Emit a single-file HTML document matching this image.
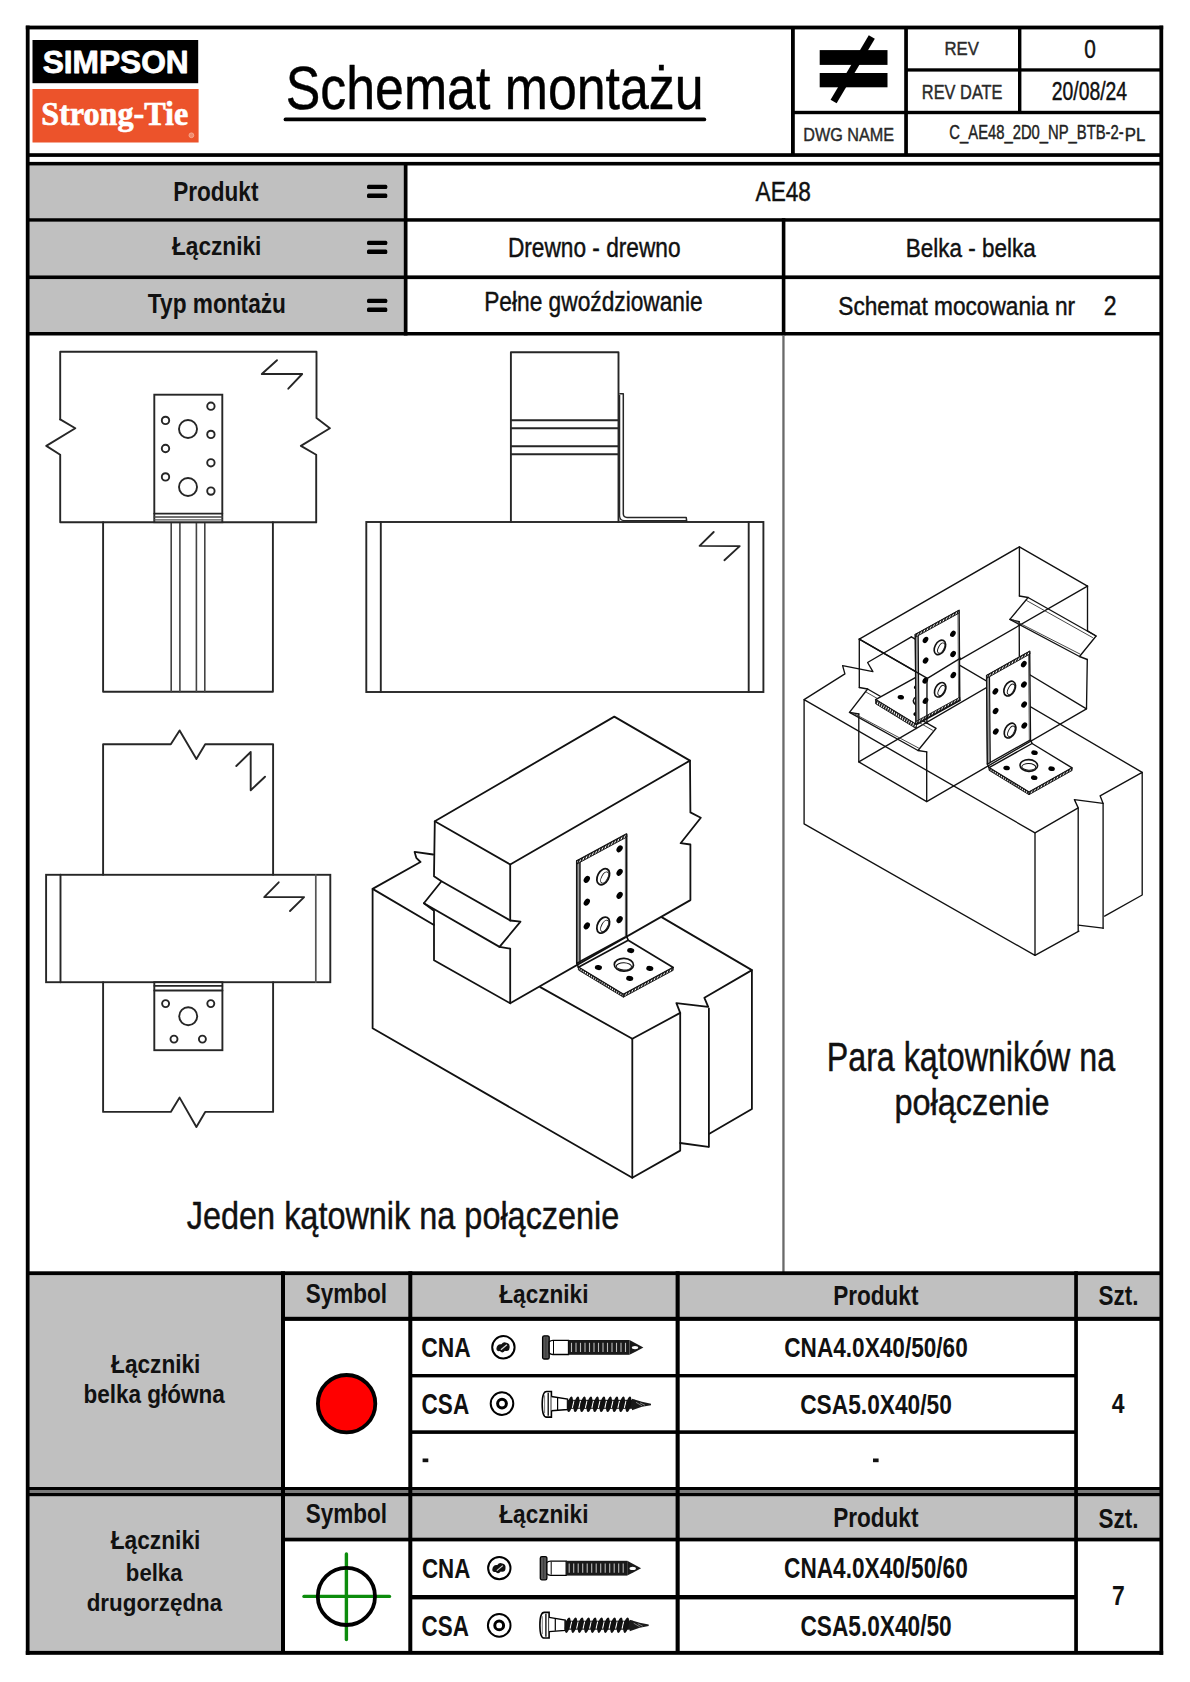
<!DOCTYPE html>
<html><head><meta charset="utf-8"><style>
html,body{margin:0;padding:0;background:#fff;overflow:hidden;width:1190px;height:1682px;}
svg{display:block;}
</style></head><body>
<svg width="1190" height="1682" viewBox="0 0 1190 1682">
<rect width="1190" height="1682" fill="#fff"/>
<rect x="29.50" y="165.50" width="374.50" height="52.70" fill="#c0c0c0"/>
<rect x="29.50" y="221.70" width="374.50" height="53.70" fill="#c0c0c0"/>
<rect x="29.50" y="279.20" width="374.50" height="52.80" fill="#c0c0c0"/>
<rect x="29.50" y="1275.00" width="251.50" height="212.00" fill="#c0c0c0"/>
<rect x="285.00" y="1275.00" width="874.50" height="42.00" fill="#c0c0c0"/>
<rect x="29.50" y="1496.00" width="251.50" height="155.00" fill="#c0c0c0"/>
<rect x="285.00" y="1496.00" width="874.50" height="41.50" fill="#c0c0c0"/>
<rect x="26.00" y="1490.00" width="1137.00" height="3.00" fill="#7a7a7a"/>
<rect x="25.80" y="25.60" width="1137.40" height="3.80" fill="#000"/>
<rect x="25.80" y="1650.90" width="1137.40" height="3.90" fill="#000"/>
<rect x="25.80" y="25.60" width="3.80" height="1629.20" fill="#000"/>
<rect x="1159.40" y="25.60" width="3.80" height="1629.20" fill="#000"/>
<rect x="791.00" y="26.00" width="3.80" height="129.00" fill="#000"/>
<rect x="904.20" y="26.00" width="3.70" height="129.00" fill="#000"/>
<rect x="1018.00" y="26.00" width="3.40" height="86.00" fill="#000"/>
<rect x="791.00" y="110.80" width="370.00" height="3.40" fill="#000"/>
<rect x="905.00" y="68.30" width="256.00" height="3.30" fill="#000"/>
<rect x="26.00" y="153.20" width="1137.00" height="3.70" fill="#000"/>
<rect x="26.00" y="161.90" width="1137.00" height="3.60" fill="#000"/>
<rect x="26.00" y="218.20" width="1137.00" height="3.50" fill="#000"/>
<rect x="26.00" y="275.40" width="1137.00" height="3.70" fill="#000"/>
<rect x="26.00" y="332.00" width="1137.00" height="3.50" fill="#000"/>
<rect x="403.80" y="162.00" width="3.70" height="173.50" fill="#000"/>
<rect x="781.80" y="218.20" width="3.60" height="117.30" fill="#000"/>
<rect x="782.30" y="335.00" width="2.30" height="937.00" fill="#6a6a6a"/>
<rect x="26.00" y="1271.30" width="1137.00" height="3.80" fill="#000"/>
<rect x="281.00" y="1271.30" width="4.00" height="224.70" fill="#000"/>
<rect x="408.30" y="1271.30" width="4.00" height="380.70" fill="#000"/>
<rect x="675.60" y="1271.30" width="4.10" height="380.70" fill="#000"/>
<rect x="1074.20" y="1271.30" width="3.70" height="380.70" fill="#000"/>
<rect x="281.00" y="1316.80" width="882.00" height="4.10" fill="#000"/>
<rect x="412.00" y="1374.00" width="665.00" height="3.40" fill="#000"/>
<rect x="412.00" y="1430.30" width="665.00" height="3.60" fill="#000"/>
<rect x="26.00" y="1487.00" width="1137.00" height="3.00" fill="#000"/>
<rect x="26.00" y="1493.00" width="1137.00" height="3.20" fill="#000"/>
<rect x="281.00" y="1496.00" width="4.00" height="156.00" fill="#000"/>
<rect x="281.00" y="1537.60" width="882.00" height="3.80" fill="#000"/>
<rect x="412.00" y="1595.00" width="665.00" height="4.40" fill="#000"/>
<rect x="32.50" y="40.00" width="165.70" height="43.20" fill="#000"/>
<rect x="32.50" y="89.00" width="166.10" height="53.50" fill="#ec532b"/>
<text transform="translate(42.65,73.00) scale(1.0365,1)" font-family="Liberation Sans" font-size="30.58" font-weight="bold" fill="#fff" stroke="#fff" stroke-width="0.8" stroke-linejoin="round">SIMPSON</text>
<text transform="translate(41.33,124.60) scale(0.9833,1)" font-family="Liberation Serif" font-size="32.67" font-weight="bold" fill="#fff" stroke="#fff" stroke-width="0.7" stroke-linejoin="round">Strong-Tie</text>
<circle cx="191.4" cy="135.3" r="2.4" fill="#f08a6c" stroke="#f6b39c" stroke-width="0.8"/>
<text transform="translate(285.77,108.90) scale(0.8391,1)" font-family="Liberation Sans" font-size="61.79" font-weight="normal" fill="#000" stroke="#000" stroke-width="0.45" stroke-linejoin="round">Schemat montażu</text>
<line x1="285.5" y1="119.4" x2="704.3" y2="119.4" stroke="#000" stroke-width="3.8" stroke-linecap="round"/>
<rect x="819.70" y="50.10" width="67.80" height="14.80" fill="#000"/>
<rect x="819.70" y="73.00" width="67.80" height="14.30" fill="#000"/>
<line x1="871.8" y1="37" x2="833.6" y2="101.5" stroke="#000" stroke-width="7"/>
<text transform="translate(944.46,55.10) scale(0.8691,1)" font-family="Liberation Sans" font-size="19.28" font-weight="normal" fill="#2a2a2a" stroke="#2a2a2a" stroke-width="0.45" stroke-linejoin="round">REV</text>
<text transform="translate(1084.17,57.60) scale(0.8381,1)" font-family="Liberation Sans" font-size="24.86" font-weight="normal" fill="#111" stroke="#111" stroke-width="0.45" stroke-linejoin="round">0</text>
<text transform="translate(921.79,99.40) scale(0.8141,1)" font-family="Liberation Sans" font-size="20.14" font-weight="normal" fill="#2a2a2a" stroke="#2a2a2a" stroke-width="0.45" stroke-linejoin="round">REV DATE</text>
<text transform="translate(1051.73,99.60) scale(0.7793,1)" font-family="Liberation Sans" font-size="24.86" font-weight="normal" fill="#111" stroke="#111" stroke-width="0.45" stroke-linejoin="round">20/08/24</text>
<text transform="translate(803.20,140.80) scale(0.8410,1)" font-family="Liberation Sans" font-size="19.28" font-weight="normal" fill="#2a2a2a" stroke="#2a2a2a" stroke-width="0.45" stroke-linejoin="round">DWG NAME</text>
<text transform="translate(949.36,139.30) scale(0.7404,1)" font-family="Liberation Sans" font-size="20.00" font-weight="normal" fill="#222" stroke="#222" stroke-width="0.45" stroke-linejoin="round">C_AE48_2D0_NP_BTB-2-</text>
<text transform="translate(1124.85,140.80) scale(0.8806,1)" font-family="Liberation Sans" font-size="19.13" font-weight="normal" fill="#222" stroke="#222" stroke-width="0.45" stroke-linejoin="round">PL</text>
<text transform="translate(173.23,201.00) scale(0.8196,1)" font-family="Liberation Sans" font-size="27.54" font-weight="bold" fill="#111">Produkt</text>
<text transform="translate(172.00,254.90) scale(0.8736,1)" font-family="Liberation Sans" font-size="25.93" font-weight="bold" fill="#111">Łączniki</text>
<text transform="translate(147.87,312.80) scale(0.8323,1)" font-family="Liberation Sans" font-size="27.25" font-weight="bold" fill="#111">Typ montażu</text>
<rect x="367" y="184.7" width="20.3" height="4.3" rx="1.5" fill="#000"/>
<rect x="367" y="193.4" width="20.3" height="4.6" rx="1.5" fill="#000"/>
<rect x="367" y="240.8" width="20.3" height="4.3" rx="1.5" fill="#000"/>
<rect x="367" y="249.5" width="20.3" height="4.6" rx="1.5" fill="#000"/>
<rect x="367" y="298.7" width="20.3" height="4.3" rx="1.5" fill="#000"/>
<rect x="367" y="307.4" width="20.3" height="4.6" rx="1.5" fill="#000"/>
<text transform="translate(755.60,200.80) scale(0.8346,1)" font-family="Liberation Sans" font-size="27.10" font-weight="normal" fill="#111" stroke="#111" stroke-width="0.45" stroke-linejoin="round">AE48</text>
<text transform="translate(507.89,256.90) scale(0.8325,1)" font-family="Liberation Sans" font-size="27.25" font-weight="normal" fill="#111" stroke="#111" stroke-width="0.45" stroke-linejoin="round">Drewno - drewno</text>
<text transform="translate(905.80,256.80) scale(0.8474,1)" font-family="Liberation Sans" font-size="26.52" font-weight="normal" fill="#111" stroke="#111" stroke-width="0.45" stroke-linejoin="round">Belka - belka</text>
<text transform="translate(484.18,311.00) scale(0.8130,1)" font-family="Liberation Sans" font-size="27.97" font-weight="normal" fill="#111" stroke="#111" stroke-width="0.45" stroke-linejoin="round">Pełne gwoździowanie</text>
<text transform="translate(838.28,314.70) scale(0.8891,1)" font-family="Liberation Sans" font-size="25.52" font-weight="normal" fill="#111" stroke="#111" stroke-width="0.45" stroke-linejoin="round">Schemat mocowania nr</text>
<text transform="translate(1103.65,315.30) scale(0.8327,1)" font-family="Liberation Sans" font-size="27.71" font-weight="normal" fill="#111" stroke="#111" stroke-width="0.45" stroke-linejoin="round">2</text>
<text transform="translate(305.72,1303.00) scale(0.8377,1)" font-family="Liberation Sans" font-size="26.90" font-weight="bold" fill="#111">Symbol</text>
<text transform="translate(499.30,1302.80) scale(0.8717,1)" font-family="Liberation Sans" font-size="25.93" font-weight="bold" fill="#111">Łączniki</text>
<text transform="translate(305.72,1523.00) scale(0.8377,1)" font-family="Liberation Sans" font-size="26.90" font-weight="bold" fill="#111">Symbol</text>
<text transform="translate(499.30,1522.80) scale(0.8717,1)" font-family="Liberation Sans" font-size="25.93" font-weight="bold" fill="#111">Łączniki</text>
<text transform="translate(833.23,1305.10) scale(0.8196,1)" font-family="Liberation Sans" font-size="27.54" font-weight="bold" fill="#111">Produkt</text>
<text transform="translate(1098.62,1305.30) scale(0.7995,1)" font-family="Liberation Sans" font-size="28.14" font-weight="bold" fill="#111">Szt.</text>
<text transform="translate(833.23,1527.30) scale(0.8196,1)" font-family="Liberation Sans" font-size="27.54" font-weight="bold" fill="#111">Produkt</text>
<text transform="translate(1098.62,1527.50) scale(0.7995,1)" font-family="Liberation Sans" font-size="28.14" font-weight="bold" fill="#111">Szt.</text>
<text transform="translate(111.10,1373.00) scale(0.9064,1)" font-family="Liberation Sans" font-size="24.97" font-weight="bold" fill="#111">Łączniki</text>
<text transform="translate(83.44,1402.60) scale(0.9021,1)" font-family="Liberation Sans" font-size="24.97" font-weight="bold" fill="#111">belka główna</text>
<text transform="translate(110.70,1548.70) scale(0.9105,1)" font-family="Liberation Sans" font-size="24.97" font-weight="bold" fill="#111">Łączniki</text>
<text transform="translate(125.86,1580.90) scale(0.8926,1)" font-family="Liberation Sans" font-size="24.83" font-weight="bold" fill="#111">belka</text>
<text transform="translate(86.71,1611.10) scale(0.9012,1)" font-family="Liberation Sans" font-size="24.83" font-weight="bold" fill="#111">drugorzędna</text>
<text transform="translate(421.29,1357.10) scale(0.8257,1)" font-family="Liberation Sans" font-size="27.68" font-weight="bold" fill="#111">CNA</text>
<text transform="translate(421.60,1414.00) scale(0.7851,1)" font-family="Liberation Sans" font-size="28.71" font-weight="bold" fill="#111">CSA</text>
<text transform="translate(421.91,1577.70) scale(0.7936,1)" font-family="Liberation Sans" font-size="28.14" font-weight="bold" fill="#111">CNA</text>
<text transform="translate(421.60,1635.90) scale(0.7702,1)" font-family="Liberation Sans" font-size="29.14" font-weight="bold" fill="#111">CSA</text>
<text transform="translate(784.30,1357.40) scale(0.8202,1)" font-family="Liberation Sans" font-size="27.57" font-weight="bold" fill="#111">CNA4.0X40/50/60</text>
<text transform="translate(800.19,1413.70) scale(0.8036,1)" font-family="Liberation Sans" font-size="28.29" font-weight="bold" fill="#111">CSA5.0X40/50</text>
<text transform="translate(784.09,1578.10) scale(0.7806,1)" font-family="Liberation Sans" font-size="29.00" font-weight="bold" fill="#111">CNA4.0X40/50/60</text>
<text transform="translate(800.49,1636.30) scale(0.7823,1)" font-family="Liberation Sans" font-size="29.00" font-weight="bold" fill="#111">CSA5.0X40/50</text>
<text transform="translate(1111.76,1413.30) scale(0.8053,1)" font-family="Liberation Sans" font-size="28.55" font-weight="bold" fill="#111">4</text>
<text transform="translate(1111.98,1605.20) scale(0.8334,1)" font-family="Liberation Sans" font-size="27.54" font-weight="bold" fill="#111">7</text>
<rect x="422.60" y="1458.50" width="5.70" height="3.70" fill="#111"/>
<rect x="873.00" y="1458.50" width="5.60" height="3.70" fill="#111"/>
<circle cx="346.6" cy="1403.7" r="28.7" fill="#ff0000" stroke="#000" stroke-width="3.8"/>
<line x1="304" y1="1596.4" x2="389.5" y2="1596.4" stroke="#0c8c0c" stroke-width="3.4" stroke-linecap="round"/>
<line x1="346.4" y1="1554" x2="346.4" y2="1639.5" stroke="#0c8c0c" stroke-width="3.4" stroke-linecap="round"/>
<circle cx="346.4" cy="1596.4" r="28.6" fill="none" stroke="#000" stroke-width="3.8"/>
<circle cx="503.4" cy="1347.3" r="11.2" fill="#fff" stroke="#000" stroke-width="2.0"/><path transform="translate(503.4,1347.3)" d="M-7,1.5 Q-6.5,-3.5 -2,-3 Q0,-6 3,-4.5 Q6.8,-3.8 6.2,0.5 Q6,4.5 1.5,3.5 Q-1,6.5 -3.5,3.8 Q-7.2,4.5 -7,1.5 Z" fill="#111"/><path transform="translate(503.4,1347.3)" d="M-2.5,2.5 L3.5,-2.5" stroke="#ddd" stroke-width="1.2"/>
<circle cx="502.0" cy="1403.6" r="11.3" fill="#fff" stroke="#000" stroke-width="2.0"/><circle cx="502.0" cy="1403.6" r="4.4" fill="#fff" stroke="#000" stroke-width="3.0"/>
<circle cx="499.3" cy="1568.1" r="11.2" fill="#fff" stroke="#000" stroke-width="2.0"/><path transform="translate(499.3,1568.1)" d="M-7,1.5 Q-6.5,-3.5 -2,-3 Q0,-6 3,-4.5 Q6.8,-3.8 6.2,0.5 Q6,4.5 1.5,3.5 Q-1,6.5 -3.5,3.8 Q-7.2,4.5 -7,1.5 Z" fill="#111"/><path transform="translate(499.3,1568.1)" d="M-2.5,2.5 L3.5,-2.5" stroke="#ddd" stroke-width="1.2"/>
<circle cx="499.2" cy="1625.4" r="11.3" fill="#fff" stroke="#000" stroke-width="2.0"/><circle cx="499.2" cy="1625.4" r="4.4" fill="#fff" stroke="#000" stroke-width="3.0"/>
<g transform="translate(542.0,1347.4)"><rect x="0.6" y="-11.6" width="6.6" height="23.2" rx="1.6" fill="#555" stroke="#000" stroke-width="1.3"/><line x1="3.9" y1="-10" x2="3.9" y2="10" stroke="#333" stroke-width="0.8"/><path d="M7.2,-5.5 Q8.5,-7.1 11,-7.1 L26.5,-7.1 L26.5,7.1 L11,7.1 Q8.5,7.1 7.2,5.5 Z" fill="#fff" stroke="#000" stroke-width="1.3"/><line x1="11.5" y1="-6.5" x2="11.5" y2="6.5" stroke="#000" stroke-width="1.0"/><rect x="26.5" y="-7.4" width="61" height="14.8" fill="#1a1a1a"/><line x1="29.5" y1="-4.6" x2="29.5" y2="4.6" stroke="#bbb" stroke-width="1.1"/><line x1="34.0" y1="-4.6" x2="34.0" y2="4.6" stroke="#bbb" stroke-width="1.1"/><line x1="38.5" y1="-4.6" x2="38.5" y2="4.6" stroke="#bbb" stroke-width="1.1"/><line x1="43.0" y1="-4.6" x2="43.0" y2="4.6" stroke="#bbb" stroke-width="1.1"/><line x1="47.5" y1="-4.6" x2="47.5" y2="4.6" stroke="#bbb" stroke-width="1.1"/><line x1="52.0" y1="-4.6" x2="52.0" y2="4.6" stroke="#bbb" stroke-width="1.1"/><line x1="56.5" y1="-4.6" x2="56.5" y2="4.6" stroke="#bbb" stroke-width="1.1"/><line x1="61.0" y1="-4.6" x2="61.0" y2="4.6" stroke="#bbb" stroke-width="1.1"/><line x1="65.5" y1="-4.6" x2="65.5" y2="4.6" stroke="#bbb" stroke-width="1.1"/><line x1="70.0" y1="-4.6" x2="70.0" y2="4.6" stroke="#bbb" stroke-width="1.1"/><line x1="74.5" y1="-4.6" x2="74.5" y2="4.6" stroke="#bbb" stroke-width="1.1"/><line x1="79.0" y1="-4.6" x2="79.0" y2="4.6" stroke="#bbb" stroke-width="1.1"/><line x1="83.5" y1="-4.6" x2="83.5" y2="4.6" stroke="#bbb" stroke-width="1.1"/><path d="M87.5,-7.4 L94,-4 L101.4,0 L94,4 L87.5,7.4 Z" fill="#1a1a1a"/><ellipse cx="93" cy="0.2" rx="3.2" ry="1.6" fill="#fff"/></g>
<g transform="translate(542.0,1404.3)"><path d="M9.4,-12.8 L4.5,-12.8 Q0.2,-12.8 0.2,0 Q0.2,12.8 4.5,12.8 L9.4,12.8 Z" fill="#fff" stroke="#000" stroke-width="1.6"/><line x1="6.2" y1="-11.5" x2="6.2" y2="11.5" stroke="#000" stroke-width="1.3"/><line x1="2.6" y1="-9" x2="2.6" y2="9" stroke="#555" stroke-width="0.8"/><path d="M9.4,-7.8 L25.5,-5.2 L25.5,5.2 L9.4,6.4" fill="#fff" stroke="#000" stroke-width="1.4"/><line x1="15.6" y1="-6.8" x2="15.6" y2="5.6" stroke="#000" stroke-width="1.2"/><rect x="25" y="-4.5" width="68" height="9" fill="#1a1a1a"/><ellipse cx="28.0" cy="0" rx="2.5" ry="7.9" transform="rotate(12 28.0 0)" fill="#111"/><line x1="30.4" y1="3.5" x2="32.0" y2="-3.5" stroke="#fff" stroke-width="1.1"/><ellipse cx="34.5" cy="0" rx="2.5" ry="7.9" transform="rotate(12 34.5 0)" fill="#111"/><line x1="36.9" y1="3.5" x2="38.5" y2="-3.5" stroke="#fff" stroke-width="1.1"/><ellipse cx="41.0" cy="0" rx="2.5" ry="7.9" transform="rotate(12 41.0 0)" fill="#111"/><line x1="43.4" y1="3.5" x2="45.0" y2="-3.5" stroke="#fff" stroke-width="1.1"/><ellipse cx="47.5" cy="0" rx="2.5" ry="7.9" transform="rotate(12 47.5 0)" fill="#111"/><line x1="49.9" y1="3.5" x2="51.5" y2="-3.5" stroke="#fff" stroke-width="1.1"/><ellipse cx="54.0" cy="0" rx="2.5" ry="7.9" transform="rotate(12 54.0 0)" fill="#111"/><line x1="56.4" y1="3.5" x2="58.0" y2="-3.5" stroke="#fff" stroke-width="1.1"/><ellipse cx="60.5" cy="0" rx="2.5" ry="7.9" transform="rotate(12 60.5 0)" fill="#111"/><line x1="62.9" y1="3.5" x2="64.5" y2="-3.5" stroke="#fff" stroke-width="1.1"/><ellipse cx="67.0" cy="0" rx="2.5" ry="7.9" transform="rotate(12 67.0 0)" fill="#111"/><line x1="69.4" y1="3.5" x2="71.0" y2="-3.5" stroke="#fff" stroke-width="1.1"/><ellipse cx="73.5" cy="0" rx="2.5" ry="7.9" transform="rotate(12 73.5 0)" fill="#111"/><line x1="75.9" y1="3.5" x2="77.5" y2="-3.5" stroke="#fff" stroke-width="1.1"/><ellipse cx="80.0" cy="0" rx="2.5" ry="7.9" transform="rotate(12 80.0 0)" fill="#111"/><line x1="82.4" y1="3.5" x2="84.0" y2="-3.5" stroke="#fff" stroke-width="1.1"/><ellipse cx="86.5" cy="0" rx="2.5" ry="7.9" transform="rotate(12 86.5 0)" fill="#111"/><path d="M90,-5.5 L100,-2.5 L109,-0.6 L109,0.9 L100,2.5 L90,6 Z" fill="#1a1a1a"/><path d="M94,-2 L100,1.5 M98,-1.5 L103,1" stroke="#999" stroke-width="0.8"/></g>
<g transform="translate(539.7,1568.2)"><rect x="0.6" y="-11.6" width="6.6" height="23.2" rx="1.6" fill="#555" stroke="#000" stroke-width="1.3"/><line x1="3.9" y1="-10" x2="3.9" y2="10" stroke="#333" stroke-width="0.8"/><path d="M7.2,-5.5 Q8.5,-7.1 11,-7.1 L26.5,-7.1 L26.5,7.1 L11,7.1 Q8.5,7.1 7.2,5.5 Z" fill="#fff" stroke="#000" stroke-width="1.3"/><line x1="11.5" y1="-6.5" x2="11.5" y2="6.5" stroke="#000" stroke-width="1.0"/><rect x="26.5" y="-7.4" width="61" height="14.8" fill="#1a1a1a"/><line x1="29.5" y1="-4.6" x2="29.5" y2="4.6" stroke="#bbb" stroke-width="1.1"/><line x1="34.0" y1="-4.6" x2="34.0" y2="4.6" stroke="#bbb" stroke-width="1.1"/><line x1="38.5" y1="-4.6" x2="38.5" y2="4.6" stroke="#bbb" stroke-width="1.1"/><line x1="43.0" y1="-4.6" x2="43.0" y2="4.6" stroke="#bbb" stroke-width="1.1"/><line x1="47.5" y1="-4.6" x2="47.5" y2="4.6" stroke="#bbb" stroke-width="1.1"/><line x1="52.0" y1="-4.6" x2="52.0" y2="4.6" stroke="#bbb" stroke-width="1.1"/><line x1="56.5" y1="-4.6" x2="56.5" y2="4.6" stroke="#bbb" stroke-width="1.1"/><line x1="61.0" y1="-4.6" x2="61.0" y2="4.6" stroke="#bbb" stroke-width="1.1"/><line x1="65.5" y1="-4.6" x2="65.5" y2="4.6" stroke="#bbb" stroke-width="1.1"/><line x1="70.0" y1="-4.6" x2="70.0" y2="4.6" stroke="#bbb" stroke-width="1.1"/><line x1="74.5" y1="-4.6" x2="74.5" y2="4.6" stroke="#bbb" stroke-width="1.1"/><line x1="79.0" y1="-4.6" x2="79.0" y2="4.6" stroke="#bbb" stroke-width="1.1"/><line x1="83.5" y1="-4.6" x2="83.5" y2="4.6" stroke="#bbb" stroke-width="1.1"/><path d="M87.5,-7.4 L94,-4 L101.4,0 L94,4 L87.5,7.4 Z" fill="#1a1a1a"/><ellipse cx="93" cy="0.2" rx="3.2" ry="1.6" fill="#fff"/></g>
<g transform="translate(539.7,1625.2)"><path d="M9.4,-12.8 L4.5,-12.8 Q0.2,-12.8 0.2,0 Q0.2,12.8 4.5,12.8 L9.4,12.8 Z" fill="#fff" stroke="#000" stroke-width="1.6"/><line x1="6.2" y1="-11.5" x2="6.2" y2="11.5" stroke="#000" stroke-width="1.3"/><line x1="2.6" y1="-9" x2="2.6" y2="9" stroke="#555" stroke-width="0.8"/><path d="M9.4,-7.8 L25.5,-5.2 L25.5,5.2 L9.4,6.4" fill="#fff" stroke="#000" stroke-width="1.4"/><line x1="15.6" y1="-6.8" x2="15.6" y2="5.6" stroke="#000" stroke-width="1.2"/><rect x="25" y="-4.5" width="68" height="9" fill="#1a1a1a"/><ellipse cx="28.0" cy="0" rx="2.5" ry="7.9" transform="rotate(12 28.0 0)" fill="#111"/><line x1="30.4" y1="3.5" x2="32.0" y2="-3.5" stroke="#fff" stroke-width="1.1"/><ellipse cx="34.5" cy="0" rx="2.5" ry="7.9" transform="rotate(12 34.5 0)" fill="#111"/><line x1="36.9" y1="3.5" x2="38.5" y2="-3.5" stroke="#fff" stroke-width="1.1"/><ellipse cx="41.0" cy="0" rx="2.5" ry="7.9" transform="rotate(12 41.0 0)" fill="#111"/><line x1="43.4" y1="3.5" x2="45.0" y2="-3.5" stroke="#fff" stroke-width="1.1"/><ellipse cx="47.5" cy="0" rx="2.5" ry="7.9" transform="rotate(12 47.5 0)" fill="#111"/><line x1="49.9" y1="3.5" x2="51.5" y2="-3.5" stroke="#fff" stroke-width="1.1"/><ellipse cx="54.0" cy="0" rx="2.5" ry="7.9" transform="rotate(12 54.0 0)" fill="#111"/><line x1="56.4" y1="3.5" x2="58.0" y2="-3.5" stroke="#fff" stroke-width="1.1"/><ellipse cx="60.5" cy="0" rx="2.5" ry="7.9" transform="rotate(12 60.5 0)" fill="#111"/><line x1="62.9" y1="3.5" x2="64.5" y2="-3.5" stroke="#fff" stroke-width="1.1"/><ellipse cx="67.0" cy="0" rx="2.5" ry="7.9" transform="rotate(12 67.0 0)" fill="#111"/><line x1="69.4" y1="3.5" x2="71.0" y2="-3.5" stroke="#fff" stroke-width="1.1"/><ellipse cx="73.5" cy="0" rx="2.5" ry="7.9" transform="rotate(12 73.5 0)" fill="#111"/><line x1="75.9" y1="3.5" x2="77.5" y2="-3.5" stroke="#fff" stroke-width="1.1"/><ellipse cx="80.0" cy="0" rx="2.5" ry="7.9" transform="rotate(12 80.0 0)" fill="#111"/><line x1="82.4" y1="3.5" x2="84.0" y2="-3.5" stroke="#fff" stroke-width="1.1"/><ellipse cx="86.5" cy="0" rx="2.5" ry="7.9" transform="rotate(12 86.5 0)" fill="#111"/><path d="M90,-5.5 L100,-2.5 L109,-0.6 L109,0.9 L100,2.5 L90,6 Z" fill="#1a1a1a"/><path d="M94,-2 L100,1.5 M98,-1.5 L103,1" stroke="#999" stroke-width="0.8"/></g>
<text transform="translate(186.81,1228.50) scale(0.8381,1)" font-family="Liberation Sans" font-size="38.70" font-weight="normal" fill="#111" stroke="#111" stroke-width="0.45" stroke-linejoin="round">Jeden kątownik na połączenie</text>
<text transform="translate(826.72,1071.00) scale(0.8061,1)" font-family="Liberation Sans" font-size="40.00" font-weight="normal" fill="#111" stroke="#111" stroke-width="0.45" stroke-linejoin="round">Para kątowników na</text>
<text transform="translate(894.39,1114.70) scale(0.8898,1)" font-family="Liberation Sans" font-size="36.48" font-weight="normal" fill="#111" stroke="#111" stroke-width="0.45" stroke-linejoin="round">połączenie</text>
<defs><pattern id="hatch" width="2.4" height="2.4" patternUnits="userSpaceOnUse" patternTransform="rotate(20)"><rect width="2.4" height="2.4" fill="#fff"/><rect width="1.4" height="2.4" fill="#111"/></pattern></defs>
<polyline points="60.2,419.4 60.2,351.8 316.5,351.8 316.5,418.1 329.9,428.2 300.9,445.9 316.2,454.7 316.2,522.2" fill="none" stroke="#262626" stroke-width="1.9" stroke-linejoin="round" stroke-linecap="round"/>
<polyline points="60.2,419.4 75.3,428.2 46.3,445.9 60.2,454.7 60.2,522.2 316.2,522.2" fill="none" stroke="#262626" stroke-width="1.9" stroke-linejoin="round" stroke-linecap="round"/>
<polyline points="277.0,360.2 261.8,374.0 302.2,374.0 288.3,388.7" fill="none" stroke="#262626" stroke-width="1.9" stroke-linejoin="round" stroke-linecap="round"/>
<polyline points="103.1,522.2 103.1,691.8 272.9,691.8 272.9,522.2" fill="none" stroke="#262626" stroke-width="1.9" stroke-linejoin="round" stroke-linecap="round"/>
<line x1="171.2" y1="522.2" x2="171.2" y2="691.8" stroke="#444" stroke-width="1.6" stroke-linecap="round"/>
<line x1="179.9" y1="522.2" x2="179.9" y2="691.8" stroke="#444" stroke-width="1.6" stroke-linecap="round"/>
<line x1="196.4" y1="522.2" x2="196.4" y2="691.8" stroke="#444" stroke-width="1.6" stroke-linecap="round"/>
<line x1="204.8" y1="522.2" x2="204.8" y2="691.8" stroke="#444" stroke-width="1.6" stroke-linecap="round"/>
<rect x="154.3" y="394.7" width="68" height="127.5" fill="#fff" stroke="#262626" stroke-width="1.9"/>
<line x1="154.3" y1="513.6" x2="222.3" y2="513.6" stroke="#262626" stroke-width="1.9" stroke-linecap="round"/>
<line x1="154.3" y1="517.0" x2="222.3" y2="517.0" stroke="#444" stroke-width="1.4" stroke-linecap="round"/>
<line x1="154.3" y1="519.9" x2="222.3" y2="519.9" stroke="#555" stroke-width="1.2" stroke-linecap="round"/>
<circle cx="210.9" cy="406.2" r="3.70" fill="none" stroke="#262626" stroke-width="1.9"/>
<circle cx="165.5" cy="420.4" r="3.70" fill="none" stroke="#262626" stroke-width="1.9"/>
<circle cx="210.9" cy="434.4" r="3.70" fill="none" stroke="#262626" stroke-width="1.9"/>
<circle cx="165.5" cy="448.5" r="3.70" fill="none" stroke="#262626" stroke-width="1.9"/>
<circle cx="210.9" cy="462.8" r="3.70" fill="none" stroke="#262626" stroke-width="1.9"/>
<circle cx="165.5" cy="476.9" r="3.70" fill="none" stroke="#262626" stroke-width="1.9"/>
<circle cx="210.9" cy="491.1" r="3.70" fill="none" stroke="#262626" stroke-width="1.9"/>
<circle cx="188.0" cy="429.0" r="9.00" fill="none" stroke="#262626" stroke-width="1.9"/>
<circle cx="188.0" cy="487.0" r="9.00" fill="none" stroke="#262626" stroke-width="1.9"/>
<rect x="366.3" y="522.0" width="397.1" height="170" fill="none" stroke="#262626" stroke-width="1.9"/>
<line x1="380.8" y1="522.0" x2="380.8" y2="692.0" stroke="#262626" stroke-width="1.9" stroke-linecap="round"/>
<line x1="748.7" y1="522.0" x2="748.7" y2="692.0" stroke="#262626" stroke-width="1.9" stroke-linecap="round"/>
<polyline points="713.7,532.0 699.6,545.9 739.7,546.1 724.4,560.2" fill="none" stroke="#262626" stroke-width="1.9" stroke-linejoin="round" stroke-linecap="round"/>
<polyline points="510.9,522.0 510.9,352.3 618.5,352.3 618.5,522.0" fill="none" stroke="#262626" stroke-width="1.9" stroke-linejoin="round" stroke-linecap="round"/>
<line x1="510.9" y1="420.3" x2="618.5" y2="420.3" stroke="#262626" stroke-width="1.9" stroke-linecap="round"/>
<line x1="510.9" y1="428.2" x2="618.5" y2="428.2" stroke="#262626" stroke-width="1.9" stroke-linecap="round"/>
<line x1="510.9" y1="446.2" x2="618.5" y2="446.2" stroke="#262626" stroke-width="1.9" stroke-linecap="round"/>
<line x1="510.9" y1="454.3" x2="618.5" y2="454.3" stroke="#262626" stroke-width="1.9" stroke-linecap="round"/>
<path d="M619.3,393.8 L623.3,393.8 L623.3,514 Q623.5,517.4 627,517.4 L686.2,517.4 L686.8,521.8" fill="none" stroke="#262626" stroke-width="1.5" stroke-linejoin="round"/>
<path d="M619.6,395 L619.6,516 Q620,520.6 624,520.6 L686,520.6" fill="none" stroke="#262626" stroke-width="1.3"/>
<polyline points="103.1,874.8 103.1,744.3 170.8,744.3 179.6,730.4 196.4,759.1 205.2,744.3 273.1,744.3 273.1,874.8" fill="none" stroke="#262626" stroke-width="1.9" stroke-linejoin="round" stroke-linecap="round"/>
<polyline points="236.3,766.0 250.7,752.0 250.7,790.3 265.0,776.7" fill="none" stroke="#262626" stroke-width="1.9" stroke-linejoin="round" stroke-linecap="round"/>
<polyline points="103.1,982.2 103.1,1111.9 170.8,1111.9 179.6,1097.6 196.4,1127.0 205.2,1111.9 273.1,1111.9 273.1,982.2" fill="none" stroke="#262626" stroke-width="1.9" stroke-linejoin="round" stroke-linecap="round"/>
<rect x="46.1" y="874.8" width="284.2" height="107.4" fill="none" stroke="#262626" stroke-width="1.9"/>
<line x1="60.5" y1="874.8" x2="60.5" y2="982.2" stroke="#262626" stroke-width="1.9" stroke-linecap="round"/>
<line x1="315.8" y1="874.8" x2="315.8" y2="982.2" stroke="#555" stroke-width="1.7" stroke-linecap="round"/>
<polyline points="278.7,882.3 264.2,897.1 304.1,897.1 290.0,911.0" fill="none" stroke="#262626" stroke-width="1.9" stroke-linejoin="round" stroke-linecap="round"/>
<rect x="154.3" y="982.2" width="68.1" height="68" fill="#fff" stroke="#262626" stroke-width="1.9"/>
<line x1="154.3" y1="985.9" x2="222.4" y2="985.9" stroke="#262626" stroke-width="1.6" stroke-linecap="round"/>
<line x1="154.3" y1="990.5" x2="222.4" y2="990.5" stroke="#262626" stroke-width="1.9" stroke-linecap="round"/>
<circle cx="165.6" cy="1003.6" r="3.50" fill="none" stroke="#262626" stroke-width="1.9"/>
<circle cx="210.8" cy="1003.6" r="3.50" fill="none" stroke="#262626" stroke-width="1.9"/>
<circle cx="174.0" cy="1039.1" r="3.50" fill="none" stroke="#262626" stroke-width="1.9"/>
<circle cx="202.4" cy="1039.1" r="3.50" fill="none" stroke="#262626" stroke-width="1.9"/>
<circle cx="188.2" cy="1016.2" r="9.00" fill="none" stroke="#262626" stroke-width="1.9"/>
<polyline points="433.1,854.5 414.6,851.9 416.3,857.8 420.5,862.0 372.6,888.9 372.6,1028.2 632.3,1177.8 680.2,1150.6 680.2,1012.9 676.4,1003.1 708.2,1006.9 704.4,997.8 751.9,970.1 751.9,1109.0 708.9,1134.0" fill="none" stroke="#111" stroke-width="1.8" stroke-linejoin="round" stroke-linecap="round"/>
<line x1="708.9" y1="1008.4" x2="708.9" y2="1146.8" stroke="#111" stroke-width="1.8" stroke-linecap="round"/>
<line x1="680.2" y1="1143.0" x2="708.4" y2="1146.8" stroke="#111" stroke-width="1.8" stroke-linecap="round"/>
<line x1="372.6" y1="888.9" x2="434.0" y2="925.0" stroke="#111" stroke-width="1.8" stroke-linecap="round"/>
<line x1="540.3" y1="987.1" x2="632.3" y2="1038.8" stroke="#111" stroke-width="1.8" stroke-linecap="round"/>
<line x1="632.3" y1="1038.8" x2="632.3" y2="1177.8" stroke="#111" stroke-width="1.8" stroke-linecap="round"/>
<line x1="632.3" y1="1038.8" x2="680.2" y2="1012.9" stroke="#111" stroke-width="1.8" stroke-linecap="round"/>
<line x1="661.6" y1="917.1" x2="751.9" y2="970.1" stroke="#111" stroke-width="1.8" stroke-linecap="round"/>
<polygon points="434.8,821.3 614.3,716.6 690.0,760.6 510.2,864.5 434.8,821.3" fill="none" stroke="#111" stroke-width="1.8" stroke-linejoin="round" stroke-linecap="round"/>
<polyline points="434.8,821.3 434.0,876.3 441.5,881.3 510.2,920.5 520.5,921.7 499.5,946.9 423.9,903.2 441.5,881.3" fill="none" stroke="#111" stroke-width="1.8" stroke-linejoin="round" stroke-linecap="round"/>
<polyline points="423.9,903.2 434.0,910.8 434.0,960.3 510.2,1003.3 510.2,948.6 499.5,946.9" fill="none" stroke="#111" stroke-width="1.8" stroke-linejoin="round" stroke-linecap="round"/>
<line x1="510.2" y1="864.5" x2="510.2" y2="920.5" stroke="#111" stroke-width="1.8" stroke-linecap="round"/>
<polyline points="690.0,760.6 690.4,812.4 700.8,817.7 680.6,843.2 690.4,844.5 690.4,900.1 510.2,1003.3" fill="none" stroke="#111" stroke-width="1.8" stroke-linejoin="round" stroke-linecap="round"/>
<polygon points="576.8,861.0 626.6,834.1 626.6,936.3 576.8,963.2" fill="#fff" stroke="#111" stroke-width="1.7" stroke-linejoin="round" stroke-linecap="round"/>
<polygon points="576.8,861.0 580.0,859.8 580.0,961.6 576.8,963.2" fill="#999" stroke="#111" stroke-width="1.36"/>
<line x1="625.4" y1="835.6" x2="625.4" y2="936.3" stroke="#444" stroke-width="0.8" stroke-linecap="round"/>
<polygon points="576.8,861.0 626.6,834.1 626.9,837.0 577.1,863.9" fill="url(#hatch)" stroke="#111" stroke-width="0.9" stroke-linejoin="round"/>
<ellipse cx="619.6" cy="848.8" rx="2.70" ry="3.80" transform="rotate(35.0 619.6 848.8)" fill="#000"/>
<ellipse cx="586.8" cy="879.4" rx="2.70" ry="3.80" transform="rotate(35.0 586.8 879.4)" fill="#000"/>
<ellipse cx="619.6" cy="872.3" rx="2.70" ry="3.80" transform="rotate(35.0 619.6 872.3)" fill="#000"/>
<ellipse cx="586.8" cy="902.2" rx="2.70" ry="3.80" transform="rotate(35.0 586.8 902.2)" fill="#000"/>
<ellipse cx="619.6" cy="895.4" rx="2.70" ry="3.80" transform="rotate(35.0 619.6 895.4)" fill="#000"/>
<ellipse cx="586.8" cy="925.9" rx="2.70" ry="3.80" transform="rotate(35.0 586.8 925.9)" fill="#000"/>
<ellipse cx="619.6" cy="919.6" rx="2.70" ry="3.80" transform="rotate(35.0 619.6 919.6)" fill="#000"/>
<ellipse cx="603.2" cy="876.7" rx="5.60" ry="8.60" transform="rotate(28.0 603.2 876.7)" fill="#fff" stroke="#111" stroke-width="1.8"/>
<ellipse cx="604.6" cy="877.5" rx="3.00" ry="6.20" transform="rotate(28.0 604.6 877.5)" fill="#fff" stroke="#111" stroke-width="0.9"/>
<ellipse cx="603.2" cy="925.1" rx="5.60" ry="8.60" transform="rotate(28.0 603.2 925.1)" fill="#fff" stroke="#111" stroke-width="1.8"/>
<ellipse cx="604.6" cy="925.9" rx="3.00" ry="6.20" transform="rotate(28.0 604.6 925.9)" fill="#fff" stroke="#111" stroke-width="0.9"/>
<polygon points="578.4,967.2 628.2,940.3 673.2,967.5 623.4,994.4" fill="#fff" stroke="#111" stroke-width="1.7" stroke-linejoin="round" stroke-linecap="round"/>
<polygon points="578.4,967.2 623.4,994.4 623.4,997.2 578.4,970.0" fill="url(#hatch)" stroke="#111" stroke-width="0.9" stroke-linejoin="round"/>
<polygon points="623.4,994.4 673.2,967.5 673.2,970.3 623.4,997.2" fill="url(#hatch)" stroke="#111" stroke-width="0.9" stroke-linejoin="round"/>
<ellipse cx="630.7" cy="950.6" rx="3.60" ry="2.50" transform="rotate(8.0 630.7 950.6)" fill="#000"/>
<ellipse cx="598.4" cy="967.6" rx="3.60" ry="2.50" transform="rotate(8.0 598.4 967.6)" fill="#000"/>
<ellipse cx="649.8" cy="968.4" rx="3.60" ry="2.50" transform="rotate(8.0 649.8 968.4)" fill="#000"/>
<ellipse cx="629.7" cy="978.4" rx="3.60" ry="2.50" transform="rotate(8.0 629.7 978.4)" fill="#000"/>
<ellipse cx="623.9" cy="964.8" rx="9.60" ry="6.40" transform="rotate(2.0 623.9 964.8)" fill="#fff" stroke="#111" stroke-width="1.7"/>
<ellipse cx="623.9" cy="966.4" rx="7.60" ry="3.60" transform="rotate(2.0 623.9 966.4)" fill="#fff" stroke="#111" stroke-width="1.0"/>
<line x1="576.8" y1="963.2" x2="578.4" y2="967.2" stroke="#111" stroke-width="1.7" stroke-linecap="round"/>
<line x1="626.6" y1="936.3" x2="628.2" y2="940.3" stroke="#111" stroke-width="1.7" stroke-linecap="round"/>
<polyline points="804.1,699.6 804.1,823.9 1035.0,955.4 1035.0,832.9 804.1,699.6" fill="none" stroke="#111" stroke-width="1.35" stroke-linejoin="round" stroke-linecap="round"/>
<polyline points="1035.0,955.4 1078.9,931.2" fill="none" stroke="#111" stroke-width="1.35" stroke-linejoin="round" stroke-linecap="round"/>
<polyline points="1035.0,832.9 1078.2,807.9 1074.4,799.6 1103.1,803.4 1100.1,795.8 1142.2,772.4 1142.2,895.0 1104.6,916.1" fill="none" stroke="#111" stroke-width="1.35" stroke-linejoin="round" stroke-linecap="round"/>
<line x1="1078.2" y1="807.9" x2="1078.2" y2="931.2" stroke="#111" stroke-width="1.35" stroke-linecap="round"/>
<line x1="1103.1" y1="803.4" x2="1103.1" y2="928.2" stroke="#111" stroke-width="1.35" stroke-linecap="round"/>
<line x1="1078.2" y1="925.2" x2="1103.1" y2="928.2" stroke="#111" stroke-width="1.35" stroke-linecap="round"/>
<polyline points="804.1,699.6 844.9,673.9 842.6,665.6 872.9,671.6 867.6,662.5 911.4,636.9" fill="none" stroke="#111" stroke-width="1.35" stroke-linejoin="round" stroke-linecap="round"/>
<line x1="911.4" y1="636.9" x2="1142.2" y2="772.4" stroke="#111" stroke-width="1.35" stroke-linecap="round"/>
<polyline points="859.3,639.1 1019.4,546.8 1087.5,586.1" fill="none" stroke="#111" stroke-width="1.35" stroke-linejoin="round" stroke-linecap="round"/>
<line x1="859.3" y1="639.1" x2="927.4" y2="678.4" stroke="#111" stroke-width="1.35" stroke-linecap="round"/>
<line x1="1087.5" y1="586.1" x2="927.4" y2="678.4" stroke="#111" stroke-width="1.35" stroke-linecap="round"/>
<line x1="859.3" y1="639.1" x2="859.3" y2="687.5" stroke="#111" stroke-width="1.35" stroke-linecap="round"/>
<line x1="858.8" y1="714.0" x2="858.8" y2="761.9" stroke="#111" stroke-width="1.35" stroke-linecap="round"/>
<line x1="1019.4" y1="546.8" x2="1019.4" y2="596.0" stroke="#111" stroke-width="1.35" stroke-linecap="round"/>
<line x1="1019.2" y1="621.7" x2="1019.4" y2="668.5" stroke="#111" stroke-width="1.35" stroke-linecap="round"/>
<line x1="1087.5" y1="586.1" x2="1087.5" y2="630.8" stroke="#111" stroke-width="1.35" stroke-linecap="round"/>
<line x1="1087.3" y1="659.5" x2="1086.5" y2="708.8" stroke="#111" stroke-width="1.35" stroke-linecap="round"/>
<line x1="926.7" y1="751.8" x2="926.7" y2="801.6" stroke="#111" stroke-width="1.35" stroke-linecap="round"/>
<polyline points="858.8,761.9 926.7,801.6 1086.5,708.8 1019.4,668.5 858.8,761.9" fill="none" stroke="#111" stroke-width="1.35" stroke-linejoin="round" stroke-linecap="round"/>
<polyline points="859.3,687.5 867.6,689.0 849.5,712.4 858.8,714.0" fill="none" stroke="#111" stroke-width="1.35" stroke-linejoin="round" stroke-linecap="round"/>
<polyline points="867.6,689.0 936.1,728.3 918.0,750.5 926.7,751.8" fill="none" stroke="#111" stroke-width="1.35" stroke-linejoin="round" stroke-linecap="round"/>
<line x1="849.5" y1="712.4" x2="918.0" y2="750.5" stroke="#111" stroke-width="1.35" stroke-linecap="round"/>
<line x1="866.0" y1="692.0" x2="932.5" y2="730.2" stroke="#333" stroke-width="0.9" stroke-linecap="round"/>
<line x1="852.5" y1="712.8" x2="918.5" y2="748.0" stroke="#333" stroke-width="0.9" stroke-linecap="round"/>
<polyline points="1019.4,596.0 1028.1,597.5 1009.9,619.4 1019.2,621.7" fill="none" stroke="#111" stroke-width="1.35" stroke-linejoin="round" stroke-linecap="round"/>
<polyline points="1028.1,597.5 1096.1,636.0 1079.5,656.5 1087.3,659.5" fill="none" stroke="#111" stroke-width="1.35" stroke-linejoin="round" stroke-linecap="round"/>
<line x1="1087.5" y1="630.8" x2="1096.1" y2="636.0" stroke="#111" stroke-width="1.35" stroke-linecap="round"/>
<line x1="1009.9" y1="619.4" x2="1079.5" y2="656.5" stroke="#111" stroke-width="1.35" stroke-linecap="round"/>
<line x1="1026.5" y1="600.5" x2="1092.5" y2="637.5" stroke="#333" stroke-width="0.9" stroke-linecap="round"/>
<line x1="1012.9" y1="619.8" x2="1079.9" y2="654.0" stroke="#333" stroke-width="0.9" stroke-linecap="round"/>
<polygon points="916.4,724.6 960.2,700.4 919.4,675.4 875.6,699.6" fill="#fff" stroke="#111" stroke-width="1.4" stroke-linejoin="round" stroke-linecap="round"/>
<polygon points="916.4,724.6 875.6,699.6 875.6,703.7 916.4,728.7" fill="url(#hatch)" stroke="#111" stroke-width="0.9" stroke-linejoin="round"/>
<ellipse cx="944.2" cy="698.5" rx="3.24" ry="2.25" transform="rotate(8.0 944.2 698.5)" fill="#000"/>
<ellipse cx="916.6" cy="714.2" rx="3.24" ry="2.25" transform="rotate(8.0 916.6 714.2)" fill="#000"/>
<ellipse cx="917.1" cy="687.5" rx="3.24" ry="2.25" transform="rotate(8.0 917.1 687.5)" fill="#000"/>
<ellipse cx="900.8" cy="697.3" rx="3.24" ry="2.25" transform="rotate(8.0 900.8 697.3)" fill="#000"/>
<ellipse cx="921.9" cy="701.1" rx="8.64" ry="5.76" transform="rotate(2.0 921.9 701.1)" fill="#fff" stroke="#111" stroke-width="1.53"/>
<ellipse cx="921.9" cy="702.6" rx="6.84" ry="3.24" transform="rotate(2.0 921.9 702.6)" fill="#fff" stroke="#111" stroke-width="1.0"/>
<polygon points="915.3,634.5 959.1,610.3 959.8,699.8 916.0,724.0" fill="#fff" stroke="#111" stroke-width="1.4" stroke-linejoin="round" stroke-linecap="round"/>
<polygon points="915.3,634.5 918.2,633.4 918.9,722.6 916.0,724.0" fill="#999" stroke="#111" stroke-width="1.12"/>
<line x1="957.9" y1="611.8" x2="958.6" y2="699.8" stroke="#444" stroke-width="0.8" stroke-linecap="round"/>
<polygon points="915.3,634.5 959.1,610.3 959.4,612.9 915.6,637.1" fill="url(#hatch)" stroke="#111" stroke-width="0.9" stroke-linejoin="round"/>
<polygon points="916.0,721.4 959.8,697.2 959.8,699.8 916.0,724.0" fill="url(#hatch)" stroke="#111" stroke-width="0.9" stroke-linejoin="round"/>
<ellipse cx="925.5" cy="639.9" rx="2.43" ry="3.42" transform="rotate(35.0 925.5 639.9)" fill="#000"/>
<ellipse cx="925.6" cy="660.5" rx="2.43" ry="3.42" transform="rotate(35.0 925.6 660.5)" fill="#000"/>
<ellipse cx="925.3" cy="680.5" rx="2.43" ry="3.42" transform="rotate(35.0 925.3 680.5)" fill="#000"/>
<ellipse cx="925.5" cy="700.8" rx="2.43" ry="3.42" transform="rotate(35.0 925.5 700.8)" fill="#000"/>
<ellipse cx="952.9" cy="633.8" rx="2.43" ry="3.42" transform="rotate(35.0 952.9 633.8)" fill="#000"/>
<ellipse cx="953.1" cy="654.0" rx="2.43" ry="3.42" transform="rotate(35.0 953.1 654.0)" fill="#000"/>
<ellipse cx="953.3" cy="675.1" rx="2.43" ry="3.42" transform="rotate(35.0 953.3 675.1)" fill="#000"/>
<ellipse cx="939.9" cy="647.4" rx="5.04" ry="7.74" transform="rotate(28.0 939.9 647.4)" fill="#fff" stroke="#111" stroke-width="1.62"/>
<ellipse cx="941.2" cy="648.1" rx="2.70" ry="5.58" transform="rotate(28.0 941.2 648.1)" fill="#fff" stroke="#111" stroke-width="0.9"/>
<ellipse cx="940.2" cy="689.8" rx="5.04" ry="7.74" transform="rotate(28.0 940.2 689.8)" fill="#fff" stroke="#111" stroke-width="1.62"/>
<ellipse cx="941.5" cy="690.5" rx="2.70" ry="5.58" transform="rotate(28.0 941.5 690.5)" fill="#fff" stroke="#111" stroke-width="0.9"/>
<line x1="859.3" y1="639.1" x2="927.4" y2="678.4" stroke="#111" stroke-width="1.35" stroke-linecap="round"/>
<line x1="927.4" y1="678.4" x2="960.5" y2="658.2" stroke="#111" stroke-width="1.35" stroke-linecap="round"/>
<line x1="927.0" y1="678.4" x2="926.9" y2="723.4" stroke="#111" stroke-width="1.35" stroke-linecap="round"/>
<polygon points="986.6,675.5 1029.7,651.3 1030.5,739.8 987.4,764.0" fill="#fff" stroke="#111" stroke-width="1.4" stroke-linejoin="round" stroke-linecap="round"/>
<polygon points="986.6,675.5 989.5,674.4 990.3,762.5 987.4,764.0" fill="#999" stroke="#111" stroke-width="1.12"/>
<line x1="1028.5" y1="652.8" x2="1029.3" y2="739.8" stroke="#444" stroke-width="0.8" stroke-linecap="round"/>
<polygon points="986.6,675.5 1029.7,651.3 1030.0,654.0 986.9,678.2" fill="url(#hatch)" stroke="#111" stroke-width="0.9" stroke-linejoin="round"/>
<ellipse cx="1023.8" cy="664.2" rx="2.48" ry="3.50" transform="rotate(35.0 1023.8 664.2)" fill="#000"/>
<ellipse cx="995.4" cy="691.3" rx="2.48" ry="3.50" transform="rotate(35.0 995.4 691.3)" fill="#000"/>
<ellipse cx="1023.9" cy="684.5" rx="2.48" ry="3.50" transform="rotate(35.0 1023.9 684.5)" fill="#000"/>
<ellipse cx="995.6" cy="711.0" rx="2.48" ry="3.50" transform="rotate(35.0 995.6 711.0)" fill="#000"/>
<ellipse cx="1024.1" cy="704.5" rx="2.48" ry="3.50" transform="rotate(35.0 1024.1 704.5)" fill="#000"/>
<ellipse cx="995.8" cy="731.5" rx="2.48" ry="3.50" transform="rotate(35.0 995.8 731.5)" fill="#000"/>
<ellipse cx="1024.3" cy="725.5" rx="2.48" ry="3.50" transform="rotate(35.0 1024.3 725.5)" fill="#000"/>
<ellipse cx="1009.7" cy="688.6" rx="5.15" ry="7.91" transform="rotate(28.0 1009.7 688.6)" fill="#fff" stroke="#111" stroke-width="1.6560000000000001"/>
<ellipse cx="1011.0" cy="689.3" rx="2.76" ry="5.70" transform="rotate(28.0 1011.0 689.3)" fill="#fff" stroke="#111" stroke-width="0.9"/>
<ellipse cx="1010.1" cy="730.6" rx="5.15" ry="7.91" transform="rotate(28.0 1010.1 730.6)" fill="#fff" stroke="#111" stroke-width="1.6560000000000001"/>
<ellipse cx="1011.3" cy="731.3" rx="2.76" ry="5.70" transform="rotate(28.0 1011.3 731.3)" fill="#fff" stroke="#111" stroke-width="0.9"/>
<polygon points="989.0,767.7 1032.1,743.5 1072.1,767.9 1029.0,792.1" fill="#fff" stroke="#111" stroke-width="1.4" stroke-linejoin="round" stroke-linecap="round"/>
<polygon points="989.0,767.7 1029.0,792.1 1029.0,794.7 989.0,770.3" fill="url(#hatch)" stroke="#111" stroke-width="0.9" stroke-linejoin="round"/>
<polygon points="1029.0,792.1 1072.1,767.9 1072.1,770.5 1029.0,794.7" fill="url(#hatch)" stroke="#111" stroke-width="0.9" stroke-linejoin="round"/>
<ellipse cx="1034.5" cy="752.7" rx="3.31" ry="2.30" transform="rotate(8.0 1034.5 752.7)" fill="#000"/>
<ellipse cx="1006.6" cy="768.0" rx="3.31" ry="2.30" transform="rotate(8.0 1006.6 768.0)" fill="#000"/>
<ellipse cx="1051.6" cy="768.7" rx="3.31" ry="2.30" transform="rotate(8.0 1051.6 768.7)" fill="#000"/>
<ellipse cx="1034.2" cy="777.7" rx="3.31" ry="2.30" transform="rotate(8.0 1034.2 777.7)" fill="#000"/>
<ellipse cx="1028.8" cy="765.5" rx="8.83" ry="5.89" transform="rotate(2.0 1028.8 765.5)" fill="#fff" stroke="#111" stroke-width="1.564"/>
<ellipse cx="1028.8" cy="766.9" rx="6.99" ry="3.31" transform="rotate(2.0 1028.8 766.9)" fill="#fff" stroke="#111" stroke-width="1.0"/>
<line x1="987.4" y1="764.0" x2="989.0" y2="767.7" stroke="#111" stroke-width="1.4" stroke-linecap="round"/>
<line x1="1030.5" y1="739.8" x2="1032.1" y2="743.5" stroke="#111" stroke-width="1.4" stroke-linecap="round"/>
</svg>
</body></html>
